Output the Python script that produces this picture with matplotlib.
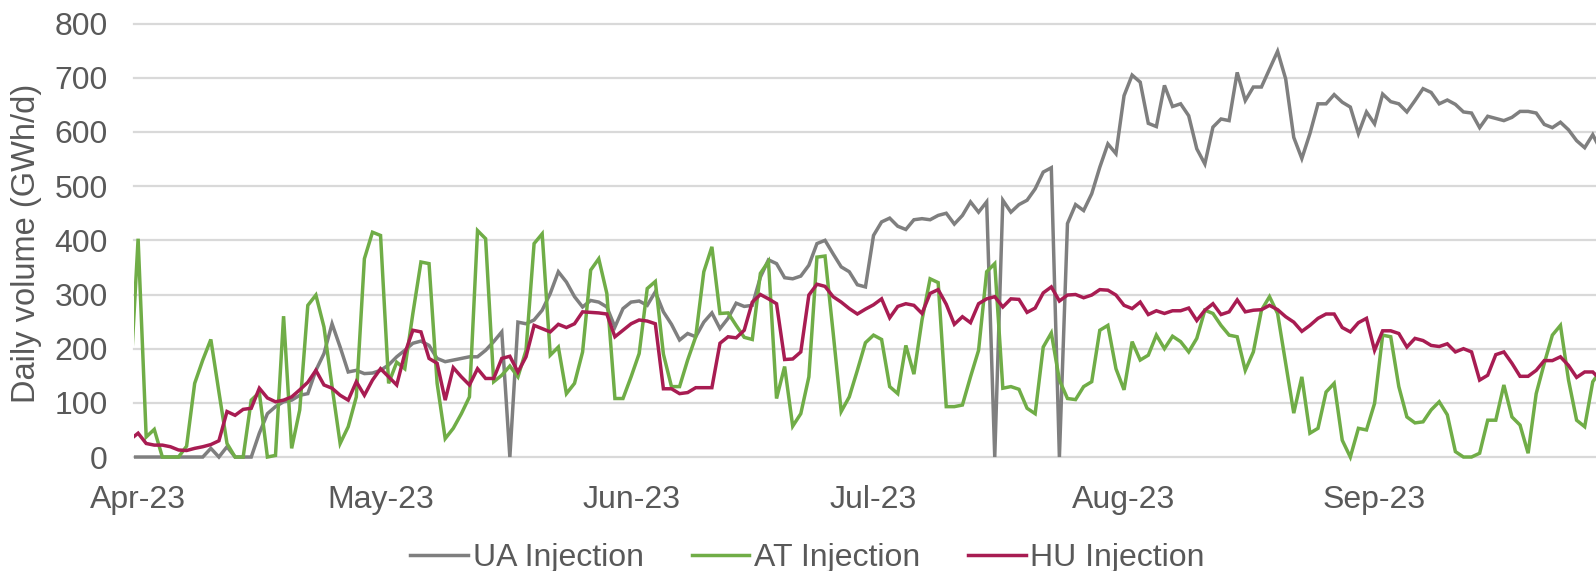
import pandas as pd
import matplotlib
matplotlib.use('Agg')
import matplotlib.pyplot as plt
import matplotlib.dates as mdates
from matplotlib.patches import Rectangle

OUTPUT_IMAGE = 'out.png'
START_DATE = '2023-03-31'

# Daily injection, GWh/d, 31 Mar 2023 onward (first point sits just left of the axis)
UA_INJECTION = [
    0, 0, 0, 0, 0, 0, 0, 0, 0, 0, 16, 0, 19, 0, 0, 0, 44, 80, 93, 102,
    105, 114, 117, 160, 191, 246, 203, 157, 160, 154, 155, 160, 170, 185, 197, 210,
    214, 206, 182, 176, 179, 182, 185, 185, 197, 213, 231, 0, 249, 246, 253, 271, 302,
    342, 323, 296, 277, 289, 286, 277, 240, 274, 286, 288, 280, 305, 268, 245, 216,
    228, 222, 249, 266, 237, 256, 284, 278, 280, 332, 364, 357, 331, 329, 334, 354,
    394, 400, 375, 351, 342, 318, 314, 409, 434, 441, 426, 420, 438, 440, 438, 446,
    450, 430, 446, 471, 452, 471, 0, 474, 452, 466, 474, 495, 526, 534, 0, 431,
    466, 455, 486, 535, 578, 560, 667, 705, 692, 616, 610, 686, 647, 652, 630, 569,
    541, 609, 624, 621, 710, 658, 683, 683, 716, 749, 698, 590, 551, 597, 652, 652,
    669, 655, 646, 597, 637, 615, 670, 656, 652, 637, 658, 680, 673, 652, 659, 651,
    637, 635, 608, 629, 625, 621, 627, 638, 638, 635, 614, 608, 618, 604, 584, 571,
    595, 566,
]
AT_INJECTION = [
    127, 403, 37, 51, 0, 0, 0, 20, 136, 179, 217, 120, 25, 0, 0, 105, 119, 0, 3, 260,
    16, 87, 280, 299, 240, 130, 25, 56, 111, 366, 415, 409, 136, 175, 163, 265,
    360, 357, 136, 34, 53, 80, 111, 418, 403, 139, 151, 168, 148, 197, 394, 412,
    188, 203, 117, 136, 194, 345, 366, 302, 108, 108, 148, 191, 311, 324, 190, 130,
    130, 179, 222, 342, 388, 265, 266, 243, 221, 217, 339, 361, 108, 167, 57, 80,
    148, 369, 371, 230, 84, 111, 160, 211, 225, 217, 130, 117, 206, 153, 253, 329,
    322, 93, 93, 96, 148, 197, 342, 357, 127, 130, 125, 90, 80, 203, 229, 142,
    108, 106, 130, 139, 234, 243, 163, 124, 213, 179, 188, 225, 200, 223, 213, 194,
    219, 271, 265, 243, 225, 222, 160, 194, 271, 296, 265, 173, 81, 148, 44, 53,
    120, 136, 31, 0, 53, 50, 99, 225, 222, 130, 74, 63, 65, 87, 102, 78,
    10, 0, 0, 7, 68, 68, 133, 74, 59, 7, 117, 173, 225, 243, 142, 68,
    56, 139, 160,
]
HU_INJECTION = [
    32, 44, 25, 22, 22, 19, 13, 12, 16, 19, 23, 30, 84, 77, 88, 90, 127, 109, 102, 105,
    111, 124, 138, 160, 133, 127, 114, 105, 139, 114, 142, 163, 148, 133, 191, 234,
    231, 182, 173, 105, 165, 148, 133, 163, 145, 145, 182, 186, 157, 185, 243, 237,
    231, 245, 239, 246, 268, 267, 266, 264, 222, 234, 246, 253, 251, 246, 126, 126,
    117, 119, 128, 128, 128, 210, 222, 220, 234, 286, 300, 292, 283, 180, 181, 194,
    299, 319, 315, 296, 286, 274, 264, 273, 281, 292, 257, 278, 283, 280, 265, 302,
    309, 282, 245, 259, 248, 283, 292, 296, 277, 292, 291, 267, 275, 303, 314, 288,
    299, 300, 294, 299, 309, 308, 299, 280, 274, 286, 263, 270, 265, 270, 270, 275,
    252, 271, 283, 263, 268, 290, 268, 271, 272, 280, 272, 259, 249, 232, 243, 256,
    264, 264, 239, 231, 248, 256, 197, 233, 233, 228, 203, 219, 215, 206, 204, 209,
    194, 200, 194, 142, 151, 189, 194, 173, 149, 149, 160, 178, 178, 185, 169, 147,
    157, 157, 142,
]
SERIES = [
    ('UA Injection', UA_INJECTION, '#7f7f7f'),
    ('AT Injection', AT_INJECTION, '#70ad47'),
    ('HU Injection', HU_INJECTION, '#a81c52'),
]
Y_TICKS = [0, 100, 200, 300, 400, 500, 600, 700, 800]
TEXT_COLOR = '#595959'
GRID_COLOR = '#d9d9d9'


def plot_injections():
    plt.rcParams['font.family'] = ['Liberation Sans', 'DejaVu Sans']
    dates = pd.date_range(START_DATE, periods=len(UA_INJECTION), freq='D')

    fig = plt.figure(figsize=(15.96, 5.71), dpi=100)
    ax = fig.add_axes([0.084, 0.1996, 0.916, 0.759])

    # keep the first (31 Mar) segment clipped at the left edge, but let lines at 0 show fully
    clip = Rectangle((0, -0.05), 1, 1.1, transform=ax.transAxes,
                     facecolor='none', edgecolor='none')
    ax.add_patch(clip)
    for label, values, color in SERIES:
        line, = ax.plot(dates, values, color=color, lw=2.5, label=label,
                        solid_joinstyle='miter')
        line.set_clip_path(clip)

    first = pd.Timestamp('2023-04-01')
    ax.set_xlim(first - pd.Timedelta(hours=12), first + pd.Timedelta(days=180.4))
    ax.set_ylim(0, 800)
    ax.set_yticks(Y_TICKS)

    ax.xaxis.set_major_locator(mdates.MonthLocator())
    ax.xaxis.set_major_formatter(mdates.DateFormatter('%b-%y'))
    ax.tick_params(axis='both', length=0, labelsize=23, colors=TEXT_COLOR)
    ax.tick_params(axis='x', pad=20)
    ax.tick_params(axis='y', pad=19)

    ax.grid(axis='y', color=GRID_COLOR, lw=1.6)
    for gl in ax.get_ygridlines():
        gl.set_clip_on(False)
    ax.set_axisbelow(True)
    for spine in ax.spines.values():
        spine.set_visible(False)

    ax.set_ylabel('Daily volume (GWh/d)', fontsize=23.5, color=TEXT_COLOR)
    ax.yaxis.set_label_coords(-0.063, 0.494)

    fig.legend(loc='center', bbox_to_anchor=(0.506, 0.023), ncol=3, frameon=False,
               fontsize=23, labelcolor=TEXT_COLOR, handlelength=1.8,
               handletextpad=0.15, columnspacing=1.5)
    fig.savefig(OUTPUT_IMAGE, dpi=100)


if __name__ == '__main__':
    plot_injections()
